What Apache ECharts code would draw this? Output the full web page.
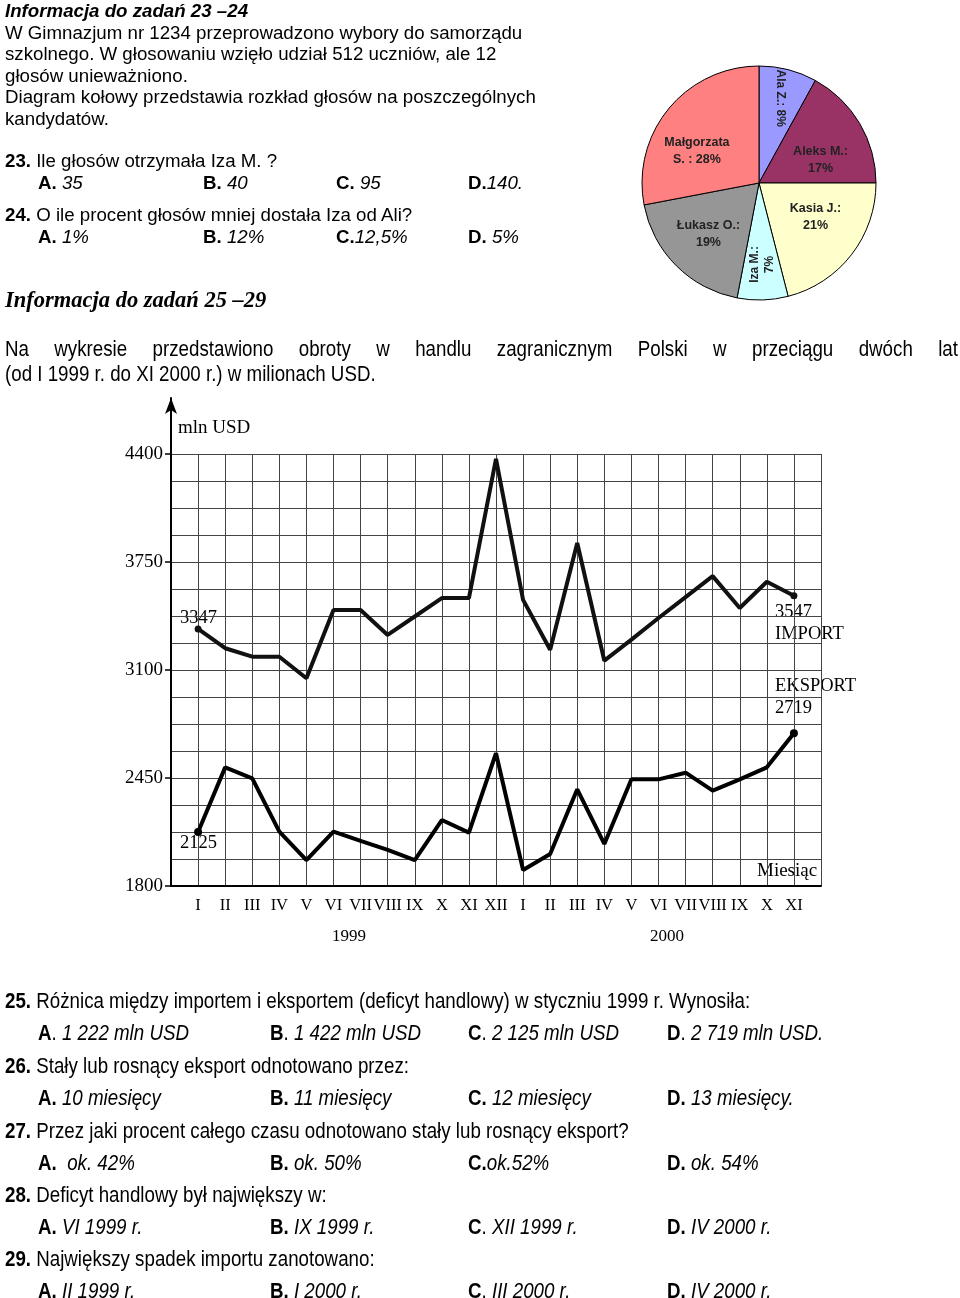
<!DOCTYPE html>
<html><head><meta charset="utf-8">
<script src="https://cdn.jsdelivr.net/npm/echarts@6/dist/echarts.min.js"></script>
<style>
html,body{margin:0;padding:0;background:#fff;width:960px;height:1298px;overflow:hidden;}
#chart{position:absolute;left:0;top:0;width:960px;height:1298px;}
.t{position:absolute;white-space:nowrap;color:#000;font-family:"Liberation Sans",Arial,sans-serif;font-size:18.7px;line-height:22px;}
.n{font-family:"Liberation Sans Narrow","Arial Narrow","Liberation Sans",sans-serif;font-size:22.3px;}
.hdr{font-family:"Liberation Serif","Times New Roman",serif;font-weight:bold;font-style:italic;font-size:22.5px;}
i{font-style:italic;}
.just{width:953px;text-align:justify;text-align-last:justify;white-space:normal;}
</style></head>
<body>
<div id="chart"></div>

<div class="t" style="left:5px;top:0px;line-height:21.5px;">
<b><i>Informacja do zadań 23 –24</i></b><br>
W Gimnazjum nr 1234 przeprowadzono wybory do samorządu<br>
szkolnego. W głosowaniu wzięło udział 512 uczniów, ale 12<br>
głosów unieważniono.<br>
Diagram kołowy przedstawia rozkład głosów na poszczególnych<br>
kandydatów.
</div>
<div class="t" style="left:5px;top:150px;"><b>23.</b> Ile głosów otrzymała Iza M. ?</div>
<div class="t" style="left:38px;top:172px;"><b>A.</b> <i>35</i></div>
<div class="t" style="left:203px;top:172px;"><b>B.</b> <i>40</i></div>
<div class="t" style="left:336px;top:172px;"><b>C.</b> <i>95</i></div>
<div class="t" style="left:468px;top:172px;"><b>D.</b><i>140.</i></div>
<div class="t" style="left:5px;top:204px;"><b>24.</b> O ile procent głosów mniej dostała Iza od Ali?</div>
<div class="t" style="left:38px;top:226px;"><b>A.</b> <i>1%</i></div>
<div class="t" style="left:203px;top:226px;"><b>B.</b> <i>12%</i></div>
<div class="t" style="left:336px;top:226px;"><b>C.</b><i>12,5%</i></div>
<div class="t" style="left:468px;top:226px;"><b>D.</b> <i>5%</i></div>

<div class="t hdr" style="left:5px;top:289px;">Informacja do zadań 25 –29</div>
<div class="t n just" id="justLine" style="left:5px;top:338px;">Na wykresie przedstawiono obroty w handlu zagranicznym Polski w przeciągu dwóch lat</div>
<div class="t n" style="left:5px;top:363px;">(od I 1999 r. do XI 2000 r.) w milionach USD.</div>

<div class="t n" style="left:5px;top:990px;"><b>25.</b> Różnica między importem i eksportem (deficyt handlowy) w styczniu 1999 r. Wynosiła:</div>
<div class="t n" style="left:38px;top:1022px;"><b>A</b>. <i>1 222 mln USD</i></div>
<div class="t n" style="left:270px;top:1022px;"><b>B</b>. <i>1 422 mln USD</i></div>
<div class="t n" style="left:468px;top:1022px;"><b>C</b>. <i>2 125 mln USD</i></div>
<div class="t n" style="left:667px;top:1022px;"><b>D</b>. <i>2 719 mln USD.</i></div>
<div class="t n" style="left:5px;top:1055px;"><b>26.</b> Stały lub rosnący eksport odnotowano przez:</div>
<div class="t n" style="left:38px;top:1087px;"><b>A.</b> <i>10 miesięcy</i></div>
<div class="t n" style="left:270px;top:1087px;"><b>B.</b> <i>11 miesięcy</i></div>
<div class="t n" style="left:468px;top:1087px;"><b>C.</b> <i>12 miesięcy</i></div>
<div class="t n" style="left:667px;top:1087px;"><b>D.</b> <i>13 miesięcy.</i></div>
<div class="t n" style="left:5px;top:1120px;"><b>27.</b> Przez jaki procent całego czasu odnotowano stały lub rosnący eksport?</div>
<div class="t n" style="left:38px;top:1152px;"><b>A.</b> &nbsp;<i>ok. 42%</i></div>
<div class="t n" style="left:270px;top:1152px;"><b>B.</b> <i>ok. 50%</i></div>
<div class="t n" style="left:468px;top:1152px;"><b>C.</b><i>ok.52%</i></div>
<div class="t n" style="left:667px;top:1152px;"><b>D.</b> <i>ok. 54%</i></div>
<div class="t n" style="left:5px;top:1184px;"><b>28.</b> Deficyt handlowy był największy w:</div>
<div class="t n" style="left:38px;top:1216px;"><b>A.</b> <i>VI 1999 r.</i></div>
<div class="t n" style="left:270px;top:1216px;"><b>B.</b> <i>IX 1999 r.</i></div>
<div class="t n" style="left:468px;top:1216px;"><b>C</b>. <i>XII 1999 r.</i></div>
<div class="t n" style="left:667px;top:1216px;"><b>D.</b> <i>IV 2000 r.</i></div>
<div class="t n" style="left:5px;top:1248px;"><b>29.</b> Największy spadek importu zanotowano:</div>
<div class="t n" style="left:38px;top:1280px;"><b>A.</b> <i>II 1999 r.</i></div>
<div class="t n" style="left:270px;top:1280px;"><b>B.</b> <i>I 2000 r.</i></div>
<div class="t n" style="left:468px;top:1280px;"><b>C</b>. <i>III 2000 r.</i></div>
<div class="t n" style="left:667px;top:1280px;"><b>D.</b> <i>IV 2000 r.</i></div>

<script>
// ---- data ----
const months = ['I','II','III','IV','V','VI','VII','VIII','IX','X','XI','XII','I','II','III','IV','V','VI','VII','VIII','IX','X','XI'];
const importVals = [3347,3231,3180,3180,3050,3461,3461,3311,3422,3533,3533,4370,3522,3222,3864,3156,3283,3413,3539,3665,3473,3631,3547];
const exportVals = [2125,2514,2448,2127,1956,2127,2072,2017,1956,2197,2121,2599,1896,1993,2382,2053,2442,2442,2482,2374,2442,2514,2719];
const yTickLabels = [1800,2450,3100,3750,4400];
const pieNames = ['Ala Z.','Aleks M.','Kasia J.','Iza M.','Łukasz O.','Małgorzata S.'];
const pieValues = [8,17,21,7,19,28];

// ---- narrow font fallback ----
(function(){
  const c=document.createElement('canvas').getContext('2d');
  c.font='20px monospace'; const w1=c.measureText('abcdefghijklmnop').width;
  c.font='20px "Liberation Sans Narrow", monospace'; const w2=c.measureText('abcdefghijklmnop').width;
  if (Math.abs(w1-w2)<0.5){
    document.querySelectorAll('.n').forEach(el=>{
      el.style.fontFamily='"Liberation Sans",Arial,sans-serif';
      el.style.transformOrigin='left center';
      el.style.transform='scaleX(0.84)';
    });
    document.getElementById('justLine').style.width=(953/0.84)+'px';
  }
})();

const pieColors = ['#9999FF','#993366','#FFFFCC','#CCFFFF','#969696','#FF8080'];
// label nudges (layout only)
const pieLabelPad = [[0,0,0,0],[0,0,0,0],[0,0,0,0],[0,0,0,12],[0,0,0,0],[0,14,0,0]];
const pieLabelSpacer = ['', 'top', 'bottom', '', '', 'top'];
const serif = '"Liberation Serif","Times New Roman",serif';

function pieLabel(i){
  const n=pieNames[i], v=pieValues[i];
  let s;
  if(i===0) s = n+': '+v+'%';
  else if(i===5) s = n.replace(' ','\n')+' : '+v+'%';
  else s = n+':\n'+v+'%';
  if(pieLabelSpacer[i]==='top') s = '{sp| }\n' + s;
  if(pieLabelSpacer[i]==='bottom') s = s + '\n{sb| }';
  return s;
}

const chart = echarts.init(document.getElementById('chart'), null, {renderer:'canvas'});
const last = months.length-1;
const symSize = (val,p)=> (p.dataIndex===0||p.dataIndex===last)?7:0;
const pieFont = '"Liberation Sans",Arial,sans-serif';
const spacerRich = {sp:{fontSize:1, lineHeight:27}, sb:{fontSize:1, lineHeight:20}};

chart.setOption({
  animation:false,
  grid:[
    {left:171, right:139, top:454, bottom:412},
    {left:171, width:1, top:398, bottom:412}
  ],
  xAxis:[
    {type:'value', gridIndex:0, min:0, max:24, interval:1,
     axisLine:{show:true, onZero:false, lineStyle:{color:'#000', width:2}},
     axisTick:{show:false},
     axisLabel:{margin:11, color:'#000', fontFamily:serif, fontSize:16.5,
       formatter:v=> (v>=1 && v<=months.length)? months[v-1] : ''},
     splitLine:{show:true, lineStyle:{color:'#444', width:1}}},
    {type:'value', gridIndex:1, show:false, min:0, max:1}
  ],
  yAxis:[
    {type:'value', gridIndex:0, min:1800, max:4400, interval:650,
     axisLine:{show:false},
     axisTick:{show:true, length:6, lineStyle:{color:'#000', width:1.5}},
     axisLabel:{margin:8, color:'#000', fontFamily:serif, fontSize:19,
       formatter:v=> yTickLabels.indexOf(v)>=0 ? String(v) : ''},
     splitLine:{show:true, lineStyle:{color:'#444', width:1}},
     minorTick:{show:false, splitNumber:4},
     minorSplitLine:{show:true, lineStyle:{color:'#444', width:1}}},
    {type:'value', gridIndex:1, min:0, max:1,
     axisLine:{show:true, symbol:['none','arrow'], symbolSize:[9,16], lineStyle:{color:'#000', width:2}},
     axisTick:{show:false}, axisLabel:{show:false}, splitLine:{show:false}}
  ],
  series:[
    {type:'line', name:'IMPORT', xAxisIndex:0, yAxisIndex:0,
     data: importVals.map((v,i)=>[i+1,v]),
     symbol:'circle', symbolSize:symSize, showAllSymbol:true,
     lineStyle:{color:'#111', width:4}, itemStyle:{color:'#111'}, silent:true},
    {type:'line', name:'EKSPORT', xAxisIndex:0, yAxisIndex:0,
     data: exportVals.map((v,i)=>[i+1,v]),
     symbol:'circle', symbolSize:(val,p)=> (p.dataIndex===0||p.dataIndex===last)?8:0, showAllSymbol:true,
     lineStyle:{color:'#000', width:4}, itemStyle:{color:'#000'}, silent:true},
    {type:'pie', center:[759,183], radius:117, startAngle:90, clockwise:true, silent:true,
     label:{show:false}, labelLine:{show:false},
     itemStyle:{borderColor:'#000', borderWidth:1},
     data: pieValues.map((v,i)=>({name:pieNames[i], value:v, itemStyle:{color:pieColors[i]}}))},
    {type:'pie', center:[759,183], radius:[20,117], startAngle:90, clockwise:true, silent:true,
     labelLine:{show:false}, itemStyle:{color:'rgba(0,0,0,0)', borderWidth:0},
     label:{show:true, position:'inside', color:'#222', fontFamily:pieFont,
            fontWeight:'bold', fontSize:12.5, lineHeight:17, rich:spacerRich, formatter:p=>pieLabel(p.dataIndex)},
     data: pieValues.map((v,i)=>({name:pieNames[i], value:v, label:{show: i!==0 && i!==3, padding:pieLabelPad[i]}}))},
    {type:'pie', center:[759,183], radius:[52,117], startAngle:90, clockwise:true, silent:true,
     labelLine:{show:false}, itemStyle:{color:'rgba(0,0,0,0)', borderWidth:0},
     label:{show:true, position:'inside', color:'#222', fontFamily:pieFont,
            fontWeight:'bold', fontSize:12, lineHeight:15, formatter:p=>pieLabel(p.dataIndex)},
     data: pieValues.map((v,i)=>({name:pieNames[i], value:v,
        label:{show: i===0 || i===3, rotate: i===0 ? -90 : 90, padding:pieLabelPad[i]}}))}
  ],
  graphic:[
    {type:'text', x:178, y:428, style:{text:'mln USD', font:'19px '+serif, fill:'#000', verticalAlign:'middle'}},
    {type:'text', x:180, y:618, style:{text:String(importVals[0]), font:'18.5px '+serif, fill:'#000', verticalAlign:'middle'}},
    {type:'text', x:180, y:843, style:{text:String(exportVals[0]), font:'18.5px '+serif, fill:'#000', verticalAlign:'middle'}},
    {type:'text', x:775, y:612, style:{text:String(importVals[last]), font:'18.5px '+serif, fill:'#000', verticalAlign:'middle'}},
    {type:'text', x:775, y:634, style:{text:'IMPORT', font:'18.5px '+serif, fill:'#000', verticalAlign:'middle'}},
    {type:'text', x:775, y:686, style:{text:'EKSPORT', font:'18.5px '+serif, fill:'#000', verticalAlign:'middle'}},
    {type:'text', x:775, y:708, style:{text:String(exportVals[last]), font:'18.5px '+serif, fill:'#000', verticalAlign:'middle'}},
    {type:'text', x:757, y:871, style:{text:'Miesiąc', font:'19px '+serif, fill:'#000', verticalAlign:'middle'}},
    {type:'text', x:349, y:937, style:{text:'1999', font:'17px '+serif, fill:'#000', align:'center', verticalAlign:'middle'}},
    {type:'text', x:667, y:937, style:{text:'2000', font:'17px '+serif, fill:'#000', align:'center', verticalAlign:'middle'}}
  ]
});
</script>
</body></html>
